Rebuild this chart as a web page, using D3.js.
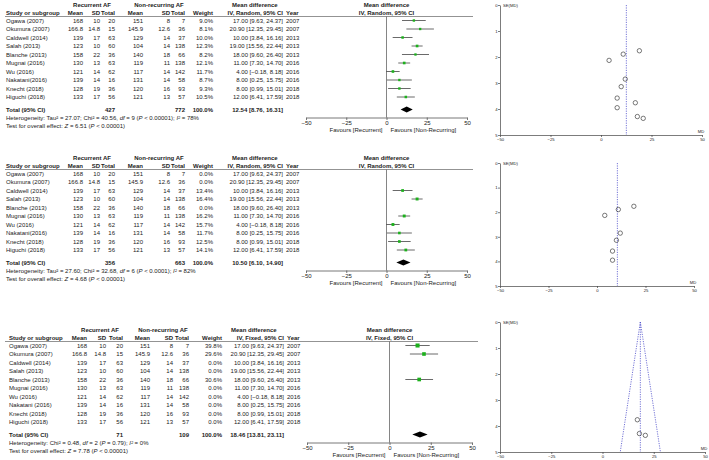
<!DOCTYPE html>
<html><head><meta charset="utf-8">
<script src="https://cdn.jsdelivr.net/npm/d3@7"></script>
<style>body{margin:0;background:#fff} svg{display:block} text{font-family:"Liberation Sans",Arial,sans-serif;fill:#222}</style>
</head><body><svg id="c" width="709" height="460"></svg>
<script>
const studies = ["Ogawa (2007)","Okumura (2007)","Caldwell (2014)","Salah (2013)","Blanche (2013)","Mugnai (2016)","Wu (2016)","Nakatani(2016)","Knecht (2018)","Higuchi (2018)"];
const studies3 = ["Ogawa (2007)","Okumura (2007)","Caldwell (2014)","Salah (2013)","Blanche (2013)","Mugnai (2016)","Wu (2016)","Nakatani (2016)","Knecht (2018)","Higuchi (2018)"];
const recMean = [168,166.8,139,123,158,130,121,139,128,133];
const recSD   = [10,14.8,17,10,22,13,14,14,19,17];
const recN    = [20,15,63,60,36,63,62,16,36,56];
const nonMean = [151,145.9,129,104,140,119,117,131,120,121];
const nonSD   = [8,12.6,14,14,18,11,14,14,16,13];
const nonN    = [7,36,37,138,66,138,142,58,93,57];
const md      = [17.00,20.90,10.00,19.00,18.00,11.00,4.00,8.00,8.00,12.00];
const ciLo    = [9.63,12.35,3.84,15.56,9.60,7.30,-0.18,0.25,0.99,6.41];
const ciHi    = [24.37,29.45,16.16,22.44,26.40,14.70,8.18,15.75,15.01,17.59];
const years   = [2007,2007,2013,2013,2013,2016,2016,2016,2018,2018];
const seMD    = [3.76,4.36,3.14,1.76,4.29,1.89,2.13,3.95,3.58,2.85];
const weights1 = [9.0,8.1,10.0,12.3,8.2,12.1,11.7,8.7,9.3,10.5];
const weights2 = [0.0,0.0,13.4,16.4,0.0,16.2,15.7,11.7,12.5,14.1];
const weights3 = [39.8,29.6,0.0,0.0,30.6,0.0,0.0,0.0,0.0,0.0];
const totals1 = {rec:427, non:772, md:12.54, lo:8.76, hi:16.31};
const totals2 = {rec:356, non:663, md:10.50, lo:6.10, hi:14.90};
const totals3 = {rec:71, non:109, md:18.46, lo:13.81, hi:23.11};
const het1 = [["Heterogeneity: Tau² = 27.07; Chi² = 40.56, ",0],["df",1],[" = 9 (",0],["P",1],[" < 0.00001); ",0],["I²",1],[" = 78%",0]];
const het2 = [["Heterogeneity: Tau² = 27.60; Chi² = 32.68, ",0],["df",1],[" = 6 (",0],["P",1],[" < 0.0001); ",0],["I²",1],[" = 82%",0]];
const het3 = [["Heterogeneity: Chi² = 0.48, ",0],["df",1],[" = 2 (",0],["P",1],[" = 0.79); ",0],["I²",1],[" = 0%",0]];
const test1 = [["Test for overall effect: ",0],["Z",1],[" = 6.51 (",0],["P",1],[" < 0.00001)",0]];
const test2 = [["Test for overall effect: ",0],["Z",1],[" = 4.68 (",0],["P",1],[" < 0.00001)",0]];
const test3 = [["Test for overall effect: ",0],["Z",1],[" = 7.78 (",0],["P",1],[" < 0.00001)",0]];
const forestTicks = [-50,-25,0,25,50];
const funnelXTicks = [-50,-25,0,25,50];
const funnelYTicks = [0,1,2,3,4,5];

const svg = d3.select("#c");
const f2 = d3.format(".2f"), f1 = d3.format(".1f");
const ciText = (m,l,h) => f2(m)+" ["+f2(l)+", "+f2(h)+"]";
const GREEN = "#1cb01c";
const FS = 6;

function panel(cfg){
  const g = svg.append("g");
  const y0 = cfg.y0, c = cfg.cols;
  function txt(x,y,s,anchor,bold,size){
    return g.append("text").attr("x",x).attr("y",y).attr("dy","0.35em")
      .attr("font-size",size||FS).attr("text-anchor",anchor||"start")
      .attr("font-weight",bold?"bold":"normal").text(s);
  }
  function rich(x,y,segs){
    const t = g.append("text").attr("x",x).attr("y",y).attr("dy","0.35em").attr("font-size",FS);
    segs.forEach(s=>t.append("tspan").attr("font-style",s[1]?"italic":"normal").text(s[0]));
  }
  const h1 = y0+4.5, h2 = y0+12.5, rule = y0+16.5;
  const rowY = i => y0+cfg.first+i*cfg.step;
  const totY = y0+cfg.totY, hetY = totY+8, testY = totY+16;
  const axisY = totY+8;
  const x = d3.scaleLinear().domain([-50,50]).range(cfg.xr);

  txt(c.g1,h1,"Recurrent AF","middle",true);
  txt(c.g2,h1,"Non-recurring AF","middle",true);
  txt(c.mdh,h1,"Mean difference","start",true);
  txt(x(0),h1,"Mean difference","middle",true);
  txt(c.st,h2,"Study or subgroup","start",true);
  txt(c.rm,h2,"Mean","end",true); txt(c.rs,h2,"SD","end",true); txt(c.rt,h2,"Total","end",true);
  txt(c.nm,h2,"Mean","end",true); txt(c.ns,h2,"SD","end",true); txt(c.nt,h2,"Total","end",true);
  txt(c.w,h2,"Weight","end",true);
  txt(c.ci,h2,cfg.method,"end",true);
  txt(c.yr,h2,"Year","start",true);
  txt(x(0),h2,cfg.method,"middle",true);
  g.append("line").attr("x1",5).attr("x2",cfg.ruleEnd).attr("y1",rule).attr("y2",rule)
    .attr("stroke","#777").attr("stroke-width",0.8);

  cfg.names.forEach((n,i)=>{
    const y = rowY(i);
    txt(c.st,y,n);
    txt(c.rm,y,String(recMean[i]),"end"); txt(c.rs,y,String(recSD[i]),"end"); txt(c.rt,y,String(recN[i]),"end");
    txt(c.nm,y,String(nonMean[i]),"end"); txt(c.ns,y,String(nonSD[i]),"end"); txt(c.nt,y,String(nonN[i]),"end");
    txt(c.w,y,f1(cfg.w[i])+"%","end");
    txt(c.ci,y,ciText(md[i],ciLo[i],ciHi[i]),"end");
    txt(c.yr,y,String(years[i]));
  });
  const T = cfg.tot;
  txt(c.st,totY,"Total (95% CI)","start",true);
  txt(c.rt,totY,String(T.rec),"end",true);
  txt(c.nt,totY,String(T.non),"end",true);
  txt(c.w,totY,"100.0%","end",true);
  txt(c.ci,totY,ciText(T.md,T.lo,T.hi),"end",true);
  rich(c.st,hetY,cfg.het);
  rich(c.st,testY,cfg.test);

  // forest
  g.append("line").attr("x1",x(0)).attr("x2",x(0)).attr("y1",rule).attr("y2",axisY)
    .attr("stroke","#666").attr("stroke-width",0.8);
  const idx = d3.range(md.length).filter(i=>cfg.w[i]>0);
  g.selectAll(null).data(idx).join("line")
    .attr("x1",i=>x(ciLo[i])).attr("x2",i=>x(ciHi[i]))
    .attr("y1",i=>rowY(i)).attr("y2",i=>rowY(i))
    .attr("stroke","#444").attr("stroke-width",0.8);
  const sz = w => 0.9+0.5*Math.sqrt(w);
  g.selectAll(null).data(idx).join("rect")
    .attr("x",i=>x(md[i])-sz(cfg.w[i])/2).attr("y",i=>rowY(i)-sz(cfg.w[i])/2)
    .attr("width",i=>sz(cfg.w[i])).attr("height",i=>sz(cfg.w[i]))
    .attr("fill",GREEN);
  g.append("path").attr("d",`M${x(T.lo)},${totY}L${x(T.md)},${totY-3}L${x(T.hi)},${totY}L${x(T.md)},${totY+3}Z`)
    .attr("fill","#000");
  const ax = g.append("g").attr("transform",`translate(0,${axisY})`)
    .call(d3.axisBottom(x).tickValues(forestTicks).tickSize(2.5).tickSizeOuter(0));
  ax.select(".domain").attr("stroke","#555").attr("stroke-width",0.8);
  ax.selectAll(".tick line").attr("stroke","#555").attr("stroke-width",0.8);
  ax.selectAll(".tick text").attr("font-size",FS).attr("font-family","Liberation Sans, Arial, sans-serif")
    .attr("fill","#222").attr("y",5.5).attr("dy","0.35em");
  txt(x(0)-4,axisY+12,"Favours [Recurrent]","end");
  txt(x(0)+4,axisY+12,"Favours [Non-Recurring]","start");
}

function funnel(cfg){
  const g = svg.append("g");
  const x = d3.scaleLinear().domain([-50,50]).range([500,cfg.xr]);
  const y = d3.scaleLinear().domain([0,5]).range([cfg.yt,cfg.yb]);
  const fs = 4.2;
  const ya = g.append("g").attr("transform","translate(500,0)")
    .call(d3.axisLeft(y).tickValues(funnelYTicks).tickSize(2).tickSizeOuter(0).tickFormat(d3.format("d")));
  const xa = g.append("g").attr("transform",`translate(0,${cfg.yb})`)
    .call(d3.axisBottom(x).tickValues(funnelXTicks).tickSize(2).tickSizeOuter(0));
  [ya,xa].forEach(a=>{
    a.select(".domain").attr("stroke","#444").attr("stroke-width",0.7);
    a.selectAll(".tick line").attr("stroke","#444").attr("stroke-width",0.7);
    a.selectAll(".tick text").attr("font-size",fs).attr("font-family","Liberation Sans, Arial, sans-serif").attr("fill","#333");
  });
  xa.selectAll(".tick text").attr("y",3).attr("dy","0.6em");
  ya.selectAll(".tick text").attr("x",-2.5);
  g.append("text").attr("x",503).attr("y",cfg.yt+1.5).attr("font-size",fs).text("SE(MD)");
  g.append("text").attr("x",cfg.xr-1).attr("y",cfg.yb-2.5).attr("font-size",fs).attr("text-anchor","middle").text("MD");
  g.append("line").attr("x1",x(cfg.pooled)).attr("x2",x(cfg.pooled)).attr("y1",y(0)).attr("y2",y(5))
    .attr("stroke","#5050cc").attr("stroke-width",0.8).attr("stroke-dasharray","1.2,1.2");
  if(cfg.cone){
    [-1,1].forEach(s=>g.append("line").attr("x1",x(cfg.pooled)).attr("y1",y(0))
      .attr("x2",x(cfg.pooled+s*1.96*5)).attr("y2",y(5))
      .attr("stroke","#5050cc").attr("stroke-width",0.8).attr("stroke-dasharray","1.2,1.2"));
  }
  const idx = d3.range(md.length).filter(i=>cfg.w[i]>0);
  g.selectAll(null).data(idx).join("circle")
    .attr("cx",i=>x(md[i])).attr("cy",i=>y(seMD[i])).attr("r",2.2)
    .attr("fill","none").attr("stroke","#222").attr("stroke-width",0.6);
}

const cols12 = {st:6,rm:83,rs:100,rt:115,nm:143,ns:170,nt:185,w:213,ci:283,yr:286,g1:92,g2:159,mdh:232};
const cols3 = {st:9,rm:87,rs:106,rt:123,nm:150,ns:173,nt:189,w:222,ci:284,yr:287,g1:100,g2:163,mdh:231};

panel({y0:0,cols:cols12,names:studies,w:weights1,tot:totals1,het:het1,test:test1,method:"IV, Random, 95% CI",xr:[306,467],first:20.5,step:8.5,totY:109.5,ruleEnd:473});
panel({y0:153,cols:cols12,names:studies,w:weights2,tot:totals2,het:het2,test:test2,method:"IV, Random, 95% CI",xr:[306,467],first:20.5,step:8.5,totY:109.5,ruleEnd:473});
panel({y0:325,cols:cols3,names:studies3,w:weights3,tot:totals3,het:het3,test:test3,method:"IV, Fixed, 95% CI",xr:[307,472],first:20.5,step:8.5,totY:109.5,ruleEnd:478});

funnel({xr:702,yt:5,yb:135,pooled:totals1.md,w:weights1,cone:false});
funnel({xr:694,yt:163,yb:286,pooled:totals2.md,w:weights2,cone:false});
funnel({xr:705,yt:322,yb:452,pooled:totals3.md,w:weights3,cone:true});
</script></body></html>
